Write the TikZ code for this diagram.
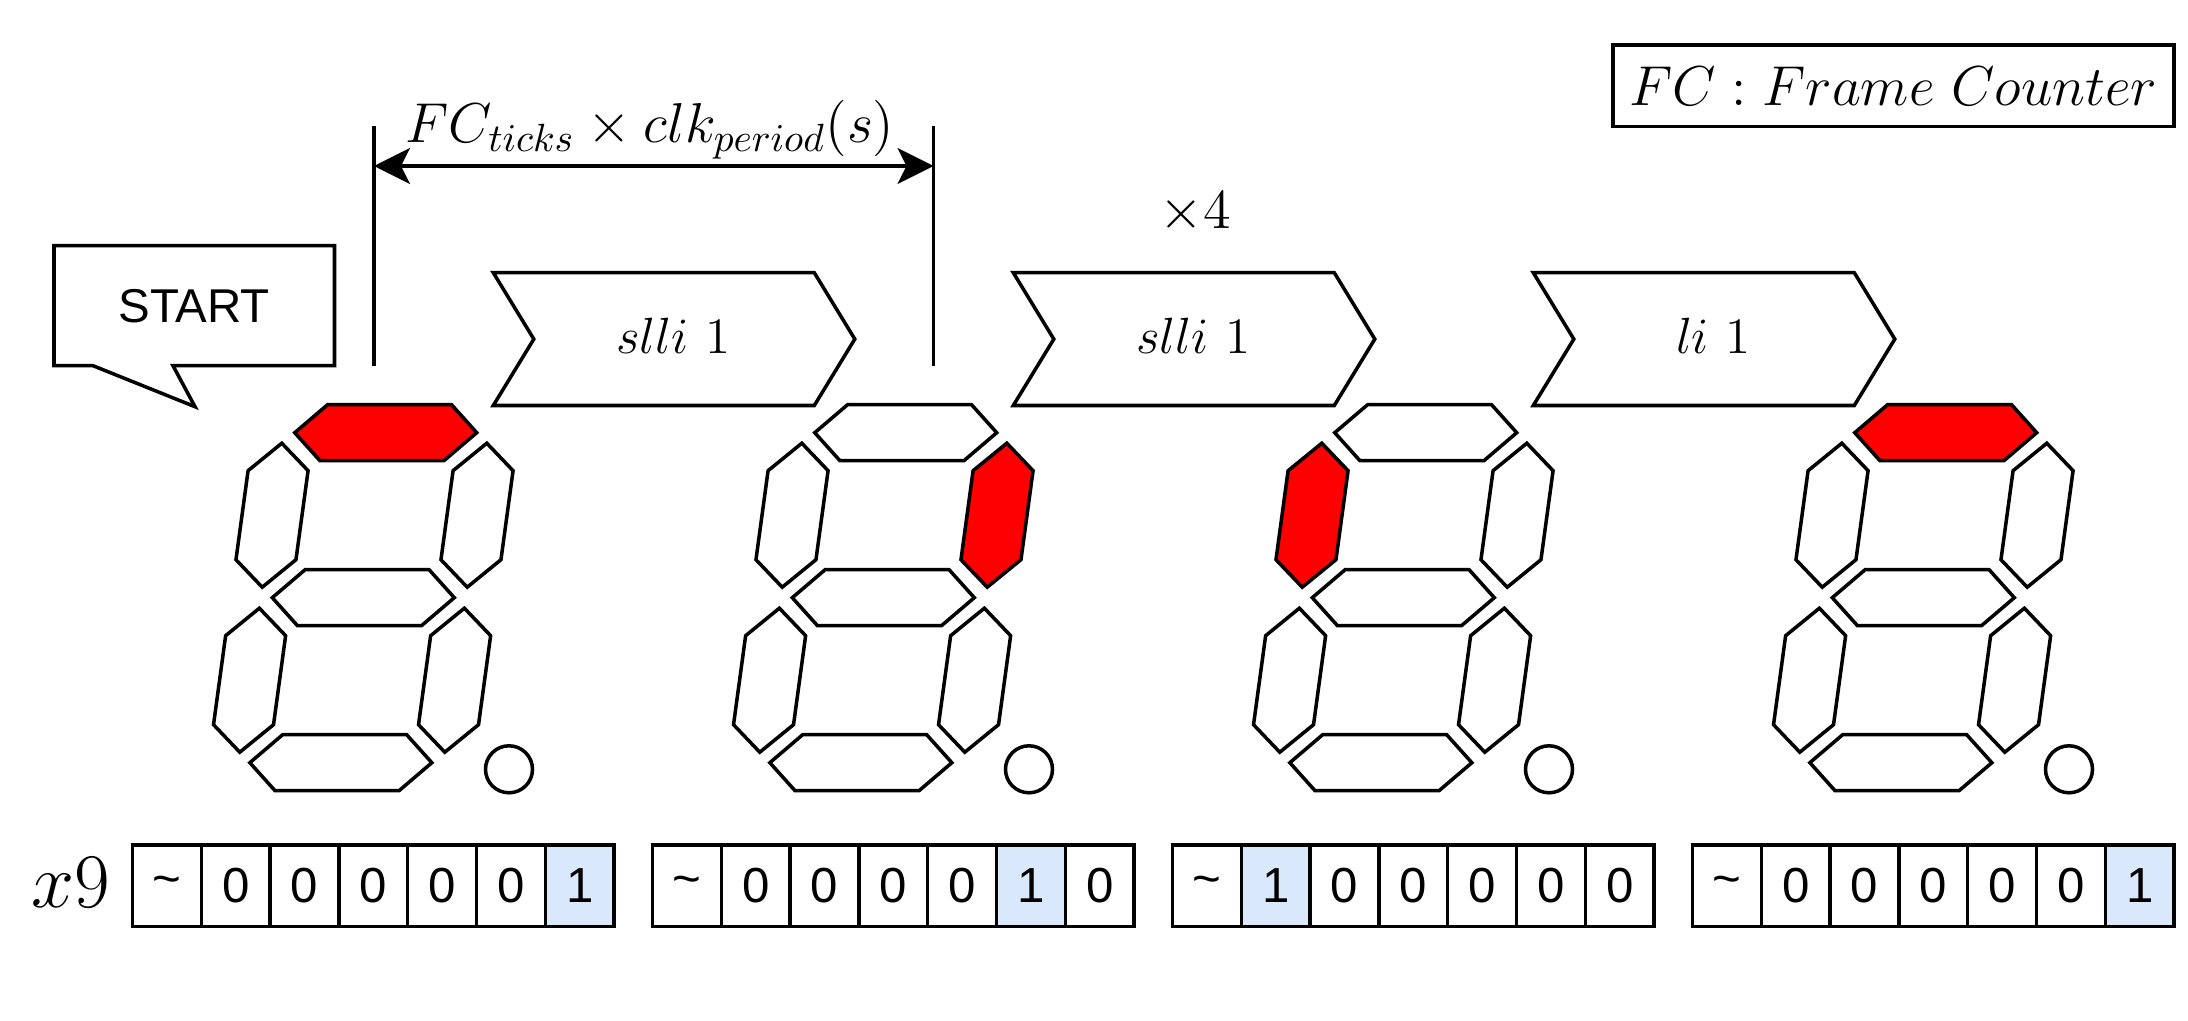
\RequirePackage{fix-cm}
\documentclass[tikz,border=0pt]{standalone}
\usepackage{amsmath}
\usepackage{fontspec}
\setsansfont{Liberation Sans}
\usetikzlibrary{arrows.meta,calc}
\definecolor{segred}{HTML}{FF0000}
\definecolor{bitblue}{HTML}{DAE8FC}
\tikzset{
  seg/.style={draw,line width=1pt},
  chev/.style={draw,line width=1pt},
  guide/.style={line width=1pt},
  dimln/.style={{Stealth[length=3.6mm,width=3.6mm,inset=0.9mm]}-{Stealth[length=3.6mm,width=3.6mm,inset=0.9mm]},line width=1pt},
  cell/.style={draw,line width=1pt,minimum width=6.88mm,minimum height=8.17mm,
    inner sep=0pt,font=\fontsize{14}{16}\sffamily},
  dotp/.style={circle,draw,line width=1pt,minimum size=4.7mm,inner sep=0pt},
  mlbl/.style={font=\fontsize{16}{19}\selectfont,inner sep=0pt},
  oplbl/.style={font=\fontsize{14.5}{17}\selectfont,inner sep=0pt},
}

\begin{document}
\begin{tikzpicture}[x=0.1mm,y=0.1mm]
  \useasboundingbox (0,0) rectangle (2188,1020);
  % legend
  \node[mlbl,draw,line width=1pt,minimum width=56.07mm,minimum height=8.17mm]
    (fcnote) at (1893.4,934.2) {$FC : Frame\ Counter$};
  % start callout
  \draw[chev] (54,774.3) -- (334.5,774.3) -- (334.5,654.3) -- (173,654.3)
    -- (195,613.3) -- (93,654.3) -- (54,654.3) -- cycle;
  \node[font=\fontsize{13.5}{16}\sffamily] (start) at (194.3,714.3) {START};
  % frame duration
  \coordinate (gl1) at (374,893.5);
  \coordinate (gl2) at (374,654.5);
  \coordinate (gr1) at (933.5,893.5);
  \coordinate (gr2) at (933.5,654.5);
  \draw[guide] (gl1) -- (gl2);
  \draw[guide] (gr1) -- (gr2);
  \coordinate (al) at (374,854);
  \coordinate (ar) at (933.5,854);
  \draw[dimln] (al) -- (ar);
  \node[mlbl,anchor=base] (durlbl) at (650,877) {$FC_{ticks}\times clk_{period}(s)$};
  \node[mlbl,anchor=base] (rep) at (1195,792) {$\times 4$};
  % instructions
  \foreach \k/\op in {0/slli,1/slli,2/li}{
    \pgfmathsetmacro\L{493.3+520*\k}
    \draw[chev] (\L,747.3) -- ++(321,0) -- ++(40.5,-66.4) -- ++(-40.5,-66.4)
      -- ++(-321,0) -- ++(40.5,66.4) -- cycle;
    \node[oplbl] (op\k) at (\L+180,684) {$\op\ 1$};
  }
  % seven segment displays
  \foreach \k/\lit in {0/a,1/b,2/f,3/a}{
    \begin{scope}[shift={({363.3+520*\k},422.3)},xslant=0.136]
      \foreach \s/\sy in {a/165,g/0,d/-165}{
        \edef\tmpa{\s}\edef\tmpb{\lit}
        \ifx\tmpa\tmpb\def\segcol{segred}\else\def\segcol{white}\fi
        \draw[seg,fill=\segcol] (-62,\sy+28) -- (62,\sy+28) -- (91,\sy)
          -- (62,\sy-28) -- (-62,\sy-28) -- (-91,\sy) -- cycle;
      }
      \foreach \s/\sx/\sy in {f/-102.5/82.5,b/102.5/82.5,e/-102.5/-82.5,c/102.5/-82.5}{
        \edef\tmpa{\s}\edef\tmpb{\lit}
        \ifx\tmpa\tmpb\def\segcol{segred}\else\def\segcol{white}\fi
        \draw[seg,fill=\segcol] (\sx,\sy+72) -- (\sx+30,\sy+44.5) -- (\sx+30,\sy-44.5)
          -- (\sx,\sy-72) -- (\sx-30,\sy-44.5) -- (\sx-30,\sy+44.5) -- cycle;
      }
    \end{scope}
    \node[dotp] (dp\k) at ({509+520*\k},250.7) {};
  }
  % register x9
  \node[font=\fontsize{22}{26}\selectfont,anchor=base] (xreg) at (70.5,113) {$x9$};
  \foreach \k/\hot in {0/7,1/6,2/2,3/7}{
    \foreach \i in {1,...,7}{
      \ifnum\i=\hot\def\cellcol{bitblue}\def\bit{1}\else\def\cellcol{white}\def\bit{0}\fi
      \ifnum\i=1\def\bit{\textasciitilde}\fi
      \node[cell,fill=\cellcol] (b\k\i) at ({132.5+520*\k+68.8*(\i-0.5)},134.2) {\bit};
    }
  }
\end{tikzpicture}
\end{document}
